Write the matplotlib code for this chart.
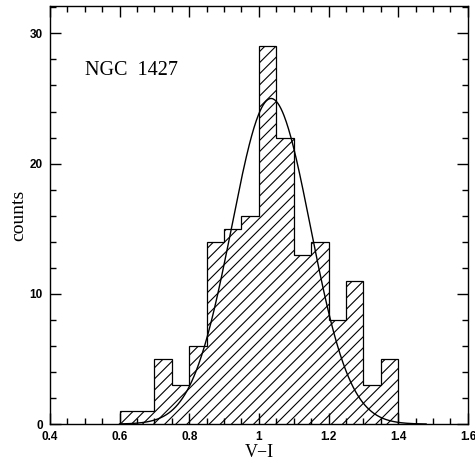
import matplotlib
matplotlib.use('Agg')
import matplotlib.pyplot as plt
import numpy as np
from matplotlib.ticker import MultipleLocator

# DATA
bin_edges = [0.60, 0.65, 0.70, 0.75, 0.80, 0.85, 0.90, 0.95, 1.00,
             1.05, 1.10, 1.15, 1.20, 1.25, 1.30, 1.35, 1.40]
counts = [1, 1, 5, 3, 6, 14, 15, 16, 29, 22, 13, 14, 8, 11, 3, 5]

# gaussian fit
GAUSS_AMP = 25.0
GAUSS_MU = 1.035
GAUSS_SIGMA = 0.113
curve_x = np.linspace(0.60, 1.48, 400)
curve_y = GAUSS_AMP * np.exp(-(curve_x - GAUSS_MU) ** 2 / (2 * GAUSS_SIGMA ** 2))

plt.rcParams['hatch.linewidth'] = 0.8

fig = plt.figure(figsize=(4.75, 4.62), dpi=100)
ax = fig.add_axes([0.105, 0.082, 0.88, 0.905])

ax.stairs(counts, bin_edges, fill=False, hatch='///', edgecolor='black',
          linewidth=0.9, baseline=0)
ax.plot(curve_x, curve_y, color='black', linewidth=1.0)

ax.set_xlim(0.4, 1.6)
ax.set_ylim(0, 32.1)
ax.xaxis.set_major_locator(MultipleLocator(0.2))
ax.xaxis.set_minor_locator(MultipleLocator(0.05))
ax.yaxis.set_major_locator(MultipleLocator(10))
ax.yaxis.set_minor_locator(MultipleLocator(2))
ax.tick_params(which='both', direction='in', top=True, right=True, width=1.0)
ax.tick_params(which='major', length=8)
ax.tick_params(which='minor', length=4)
ax.tick_params(axis='x', pad=5)
ax.tick_params(axis='y', pad=5)
ax.set_xticks([0.4, 0.6, 0.8, 1.0, 1.2, 1.4, 1.6])
ax.set_xticklabels(['0.4', '0.6', '0.8', '1', '1.2', '1.4', '1.6'])
for lab in ax.get_xticklabels() + ax.get_yticklabels():
    lab.set_fontfamily('Liberation Sans')
    lab.set_fontweight('bold')
    lab.set_fontsize(8.5)
for sp in ax.spines.values():
    sp.set_linewidth(1.0)

ax.set_xlabel('V\u2212I', family='Liberation Serif', fontsize=13, labelpad=1)
ax.set_ylabel('counts', family='Liberation Serif', fontsize=14, labelpad=2)
ax.text(0.085, 0.835, 'NGC  1427', transform=ax.transAxes,
        family='Liberation Serif', fontsize=14.5)

fig.savefig('out.png', dpi=100)
